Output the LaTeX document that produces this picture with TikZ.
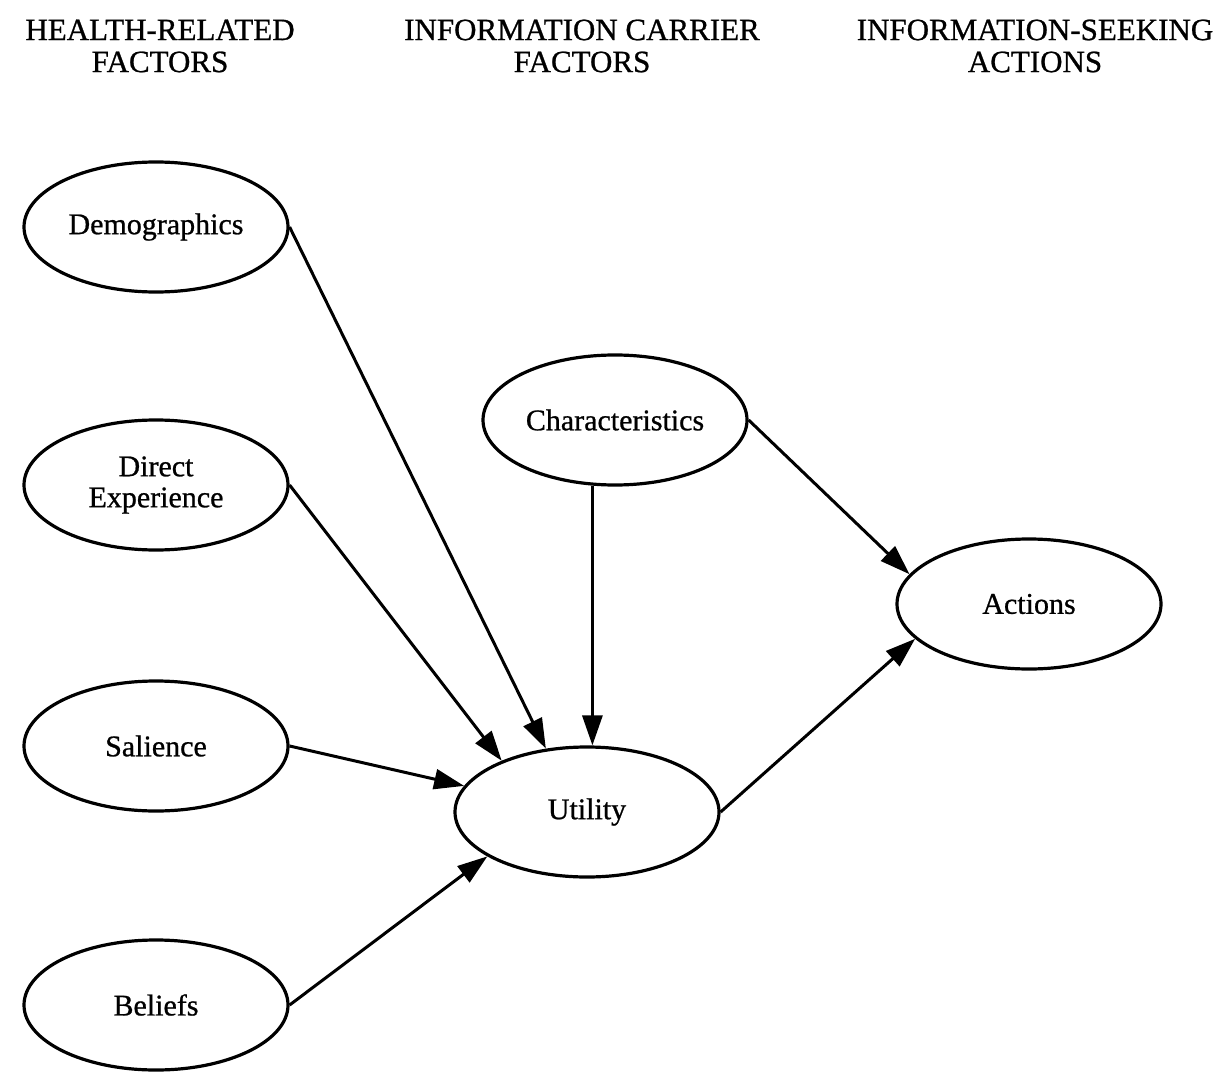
\documentclass[tikz,border=0pt]{standalone}
\usepackage{fontspec}
\setmainfont{Liberation Serif}[FakeBold=0.8]
\usetikzlibrary{shapes.geometric,arrows.meta}
\begin{document}
\begin{tikzpicture}[x=0.5pt,y=-0.5pt,
  factor/.style={draw,ellipse,line width=1.6pt,minimum width=132pt,minimum height=65pt,inner sep=0pt,font=\fontsize{15pt}{15.5pt}\selectfont,align=center},
  header/.style={font=\fontsize{15.5pt}{16pt}\selectfont,align=center},
  link/.style={line width=1.5pt,-{Triangle[length=15pt,width=10pt]}}]
\useasboundingbox (0,0) rectangle (1220,1091);
\node[header] (h1) at (160,46) {HEALTH-RELATED\\FACTORS};
\node[header] (h2) at (582,46) {INFORMATION CARRIER\\FACTORS};
\node[header] (h3) at (1035,46) {INFORMATION-SEEKING\\ACTIONS};
\node[factor] (dem) at (156,227) {Demographics};
\node[factor] (dir) at (156,485) {Direct\\Experience};
\node[factor] (sal) at (156,746) {Salience};
\node[factor] (bel) at (156,1005) {Beliefs};
\node[factor] (chr) at (615,420) {Characteristics};
\node[factor] (uti) at (587,812) {Utility};
\node[factor] (act) at (1029,604) {Actions};
\draw[link] (dem.east) -- (uti.123.7);
\draw[link] (dir.east) -- (uti.149.2);
\draw[link] (sal.east) -- (uti.168.2);
\draw[link] (bel.east) -- (uti.204.4);
\draw[link] (chr.251) -- (chr.251 |- uti.north);
\draw[link] (chr.east) -- (act.166.1);
\draw[link] (uti.east) -- (act.197.5);
\end{tikzpicture}
\end{document}
